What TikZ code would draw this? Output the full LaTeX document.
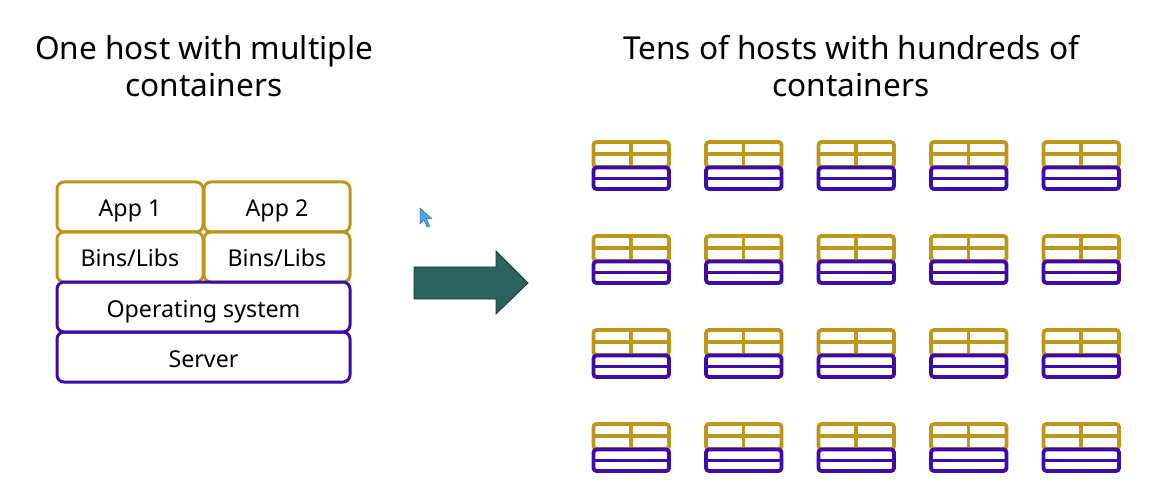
\documentclass[tikz,border=0pt]{standalone}
\usepackage{fontspec}
\setmainfont{Noto Sans}
\definecolor{gold}{HTML}{BD961C}
\definecolor{indi}{HTML}{3D0CA8}
\definecolor{teal}{HTML}{2B625D}
\definecolor{tealdk}{HTML}{1C3A38}
\definecolor{curs}{HTML}{4CA6EC}
\begin{document}
\begin{tikzpicture}[x=1pt,y=-1pt,
  title/.style={font=\fontsize{31.6}{37}\selectfont, align=center, text=black},
  layer/.style={draw, line width=3pt, rounded corners=7pt, minimum height=50pt, inner sep=0pt,
    text height=21pt, text depth=1pt, font=\fontsize{23.2}{26}\selectfont},
  goldbox/.style={layer, draw=gold, minimum width=146pt},
  indibox/.style={layer, draw=indi, minimum width=293pt},
  pic gold/.style={draw=gold, line width=3.8pt},
  pic indi/.style={draw=indi, line width=3.8pt},
  icon/.pic={
    \draw[pic gold, rounded corners=3pt] (0,0) rectangle (75.5,25);
    \draw[pic gold] (0,12) -- (75.5,12);
    \draw[pic gold] (37.5,0) -- (37.5,25);
    \draw[pic indi, rounded corners=3pt, fill=white] (0,25.5) rectangle (75.5,47);
    \draw[pic indi] (0,36.5) -- (75.5,36.5);
  }]
\useasboundingbox[fill=white] (0,0) rectangle (1173,497);

\node[title] (tl) at (204,66) {One host with multiple\\containers};
\node[title] (tr) at (851,66) {Tens of hosts with hundreds of\\containers};

\node[goldbox] (app1) at (130,207) {App 1};
\node[goldbox] (app2) at (277,207) {App 2};
\node[goldbox] (bin1) at (130,257) {Bins/Libs};
\node[goldbox] (bin2) at (277,257) {Bins/Libs};
\node[indibox] (os) at (203.5,307) {Operating system};
\node[indibox] (srv) at (203.5,357) {Server};

% arrow
\draw[fill=teal, draw=tealdk, line width=0.8pt]
  (414,267) -- (496,267) -- (496,251) -- (528,283) -- (496,314) -- (496,299) -- (414,299) -- cycle;

% cursor
\draw[fill=curs, draw=curs!60!black, line width=0.5pt]
  (420,208) -- (420,224) -- (424,220) -- (427,227) -- (429.5,226) -- (426.5,219) -- (432,219) -- cycle;

% icons grid
\foreach \cx in {593.5,706,818.5,931,1043.5}
  \foreach \cy in {142,236,330,424}
    \pic at (\cx,\cy) {icon};
\end{tikzpicture}
\end{document}
